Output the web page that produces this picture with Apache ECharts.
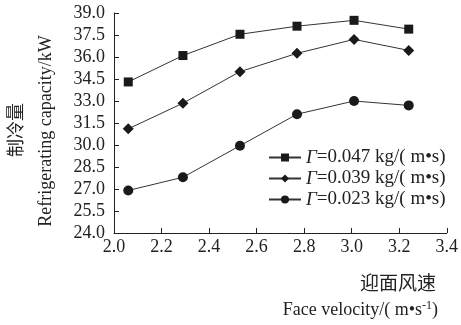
<!DOCTYPE html>
<html>
<head>
<meta charset="utf-8">
<script src="https://cdn.jsdelivr.net/npm/echarts@6/dist/echarts.min.js"></script>
<style>
  html, body { margin: 0; padding: 0; background: #fff; }
  #chart { width: 461px; height: 325px; }
</style>
</head>
<body>
<div id="chart"></div>
<script>
// 迎面风速 (m/s)
const faceVelocity = [2.06, 2.29, 2.53, 2.77, 3.01, 3.24];
// 制冷量 (kW), one array per Γ
const cap047 = [34.3, 36.1, 37.55, 38.1, 38.5, 37.9];
const cap039 = [31.1, 32.85, 35.0, 36.25, 37.2, 36.45];
const cap023 = [26.9, 27.8, 29.95, 32.1, 33.0, 32.7];
const seriesNames = ["0.047", "0.039", "0.023"];
const seriesSymbols = ["rect", "diamond", "circle"];
const seriesSizes = [9, 11, 10];

const serif = '"Liberation Serif", "Times New Roman", "Noto Sans CJK SC", serif';
const cjk = '"Noto Sans CJK SC", sans-serif';

const chart = echarts.init(document.getElementById("chart"));

function pairs(ys) {
  return ys.map((y, i) => [faceVelocity[i], y]);
}

const allData = [cap047, cap039, cap023];

chart.setOption({
  animation: false,
  grid: { left: 114, right: 12, top: 13, bottom: 92 },
  xAxis: {
    type: "value",
    min: 2.0,
    max: 3.4,
    interval: 0.2,
    axisLine: { lineStyle: { color: "#222", width: 1 } },
    axisTick: { inside: true, length: 5, lineStyle: { color: "#222" } },
    splitLine: { show: false },
    axisLabel: {
      color: "#222",
      fontFamily: serif,
      fontSize: 18,
      margin: 5,
      formatter: (v) => v.toFixed(1),
    },
  },
  yAxis: {
    type: "value",
    min: 24,
    max: 39,
    interval: 1.5,
    axisLine: { show: true, lineStyle: { color: "#222", width: 1 } },
    axisTick: { show: true, inside: true, length: 5, lineStyle: { color: "#222" } },
    splitLine: { show: false },
    axisLabel: {
      color: "#222",
      fontFamily: serif,
      fontSize: 18,
      margin: 9,
      formatter: (v) => v.toFixed(1),
    },
  },
  legend: {
    orient: "vertical",
    left: 263,
    top: 143,
    itemWidth: 32,
    itemHeight: 10,
    itemGap: 2,
    data: seriesNames,
    formatter: (name) => "{g|Γ}{t|=" + name + " kg/( m•s)}",
    textStyle: {
      color: "#222",
      rich: {
        g: { fontFamily: serif, fontStyle: "italic", fontSize: 19 },
        t: { fontFamily: serif, fontSize: 19 },
      },
    },
  },
  graphic: [
    {
      type: "text",
      x: 15, y: 130,
      rotation: Math.PI / 2,
      style: {
        text: "制冷量",
        font: "18px " + cjk,
        fill: "#222",
        align: "center",
        verticalAlign: "middle",
      },
    },
    {
      type: "text",
      x: 46, y: 131,
      rotation: Math.PI / 2,
      style: {
        text: "Refrigerating capacity/kW",
        font: "18px " + serif,
        fill: "#222",
        align: "center",
        verticalAlign: "middle",
      },
    },
    {
      type: "text",
      x: 436, y: 283,
      style: {
        text: "迎面风速",
        font: "19px " + cjk,
        fill: "#222",
        align: "right",
        verticalAlign: "middle",
      },
    },
    {
      type: "text",
      x: 438, y: 310,
      style: {
        text: "{a|Face velocity/( m•s}{s|-1}{a|)}",
        align: "right",
        verticalAlign: "middle",
        fill: "#222",
        rich: {
          a: { font: "18px " + serif, fill: "#222" },
          s: { font: "12px " + serif, fill: "#222", verticalAlign: "top", padding: [0, 0, 8, 0] },
        },
      },
    },
  ],
  series: seriesNames.map((name, i) => ({
    name: name,
    type: "line",
    data: pairs(allData[i]),
    symbol: seriesSymbols[i],
    symbolSize: seriesSizes[i],
    showAllSymbol: true,
    lineStyle: { color: "#333", width: 1 },
    itemStyle: { color: "#1a1a1a", borderWidth: 0 },
  })),
});
</script>
</body>
</html>
